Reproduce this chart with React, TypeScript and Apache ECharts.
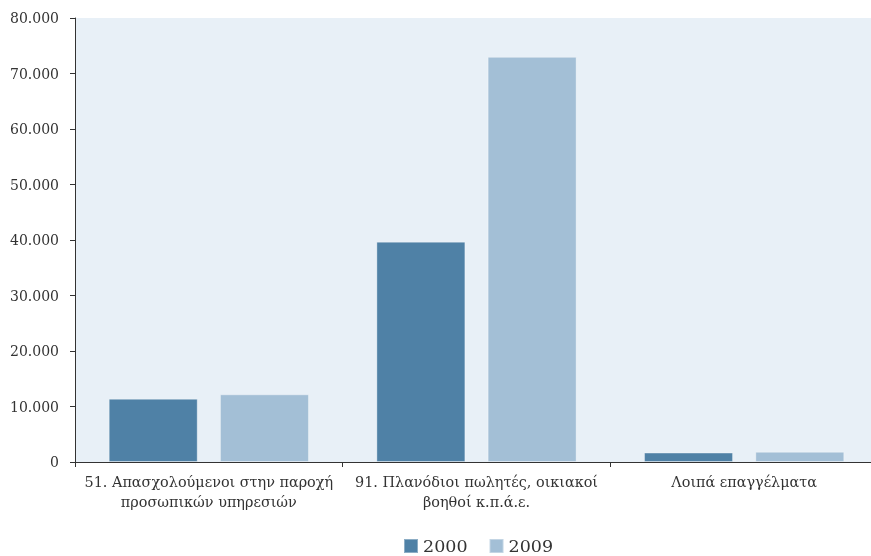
import React, { useEffect, useRef } from "react";
import * as echarts from "echarts";

const categories = [
  "51. Απασχολούμενοι στην παροχή\nπροσωπικών υπηρεσιών",
  "91. Πλανόδιοι πωλητές, οικιακοί\nβοηθοί κ.π.ά.ε.",
  "Λοιπά επαγγέλματα",
];
const values2000 = [11400, 39700, 1700];
const values2009 = [12200, 73000, 1850];
const seriesNames = ["2000", "2009"];

const FONT = "'DejaVu Serif', serif";

export default function App() {
  const ref = useRef<HTMLDivElement>(null);
  useEffect(() => {
    if (!ref.current) return;
    const chart = echarts.init(ref.current, null, { renderer: "svg" });
    chart.setOption({
      animation: false,
      textStyle: { fontFamily: FONT },
      grid: { left: 75, right: 0, top: 18, bottom: 94, backgroundColor: "#e8f0f7", show: true, borderWidth: 0 },
      legend: {
        bottom: -4,
        left: 398,
        itemWidth: 14,
        itemHeight: 14,
        itemGap: 21,
        icon: "rect",
        textStyle: { fontFamily: FONT, fontSize: 17.5, color: "#333" },
        data: seriesNames,
      },
      xAxis: {
        type: "category",
        data: categories,
        axisLine: { lineStyle: { color: "#333", width: 1 } },
        axisTick: { show: true, length: 5, lineStyle: { color: "#333" } },
        axisLabel: { fontFamily: FONT, fontSize: 14.4, color: "#333", lineHeight: 20, margin: 10, interval: 0 },
      },
      yAxis: {
        type: "value",
        min: 0,
        max: 80000,
        interval: 10000,
        axisLine: { show: true, lineStyle: { color: "#333", width: 1 } },
        axisTick: { show: true, length: 5, lineStyle: { color: "#333" } },
        splitLine: { show: false },
        axisLabel: {
          fontFamily: FONT,
          fontSize: 14,
          color: "#333",
          margin: 16,
          formatter: (v: number) => v.toLocaleString("de-DE"),
        },
      },
      series: [
        {
          name: seriesNames[0],
          type: "bar",
          data: values2000,
          barWidth: 89,
          barGap: "25%",
          itemStyle: { color: "#4f81a6", borderColor: "rgba(255,255,255,0.35)", borderWidth: 1 },
        },
        {
          name: seriesNames[1],
          type: "bar",
          data: values2009,
          barWidth: 89,
          itemStyle: { color: "#a3bfd6", borderColor: "rgba(255,255,255,0.35)", borderWidth: 1 },
        },
      ],
    });
    return () => chart.dispose();
  }, []);
  return (
    <div style={{ position: "fixed", left: 0, top: 0, width: 871, height: 556, overflow: "hidden" }}>
      <div ref={ref} style={{ width: 878, height: 556 }} />
    </div>
  );
}
